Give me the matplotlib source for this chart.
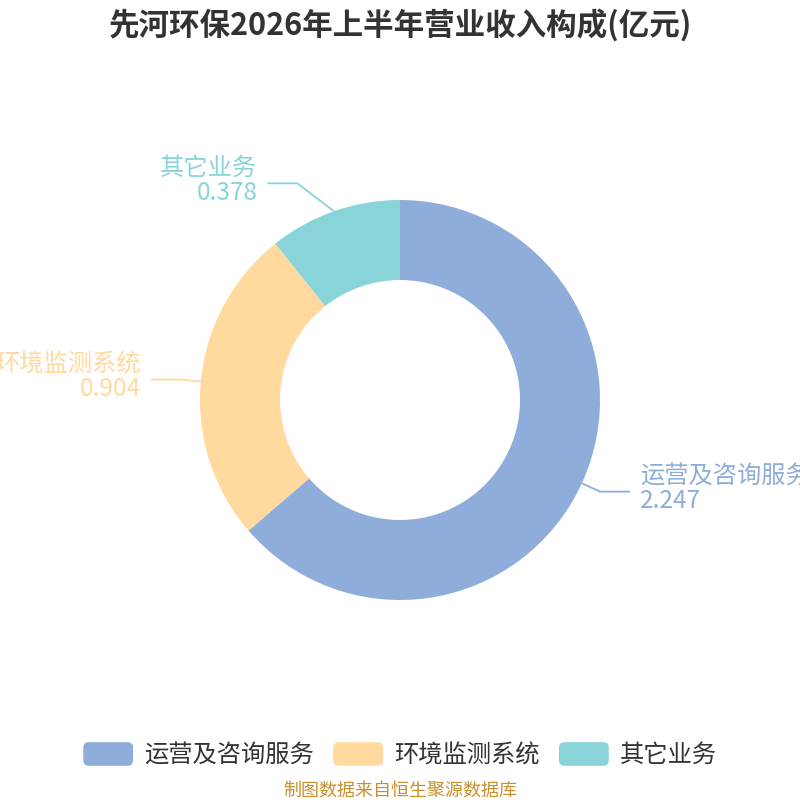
import numpy as np
import matplotlib
matplotlib.use("Agg")
import matplotlib.pyplot as plt
from matplotlib.patches import FancyBboxPatch, Patch
from matplotlib.legend_handler import HandlerPatch

plt.rcParams['font.family'] = ['Noto Sans CJK SC', 'DejaVu Sans']

title = "先河环保2026年上半年营业收入构成(亿元)"
categories = ["运营及咨询服务", "环境监测系统", "其它业务"]
values = [2.247, 0.904, 0.378]
colors = ["#8FADDA", "#FFD99D", "#88D4D8"]
source = "制图数据来自恒生聚源数据库"

# label-line elbow nudges (layout only), in axis units
nudge = [(0.0, 0.0), (0.0, 0.0), (-0.15, 0.045)]

fig = plt.figure(figsize=(8, 8), dpi=100)
ax = fig.add_axes([0, 0, 1, 1])

wedges, _ = ax.pie(values, colors=colors, startangle=90, counterclock=False,
                   radius=1.0, wedgeprops=dict(width=0.4, linewidth=0))
# pie resets the limits, so set them afterwards: 1 unit = 200 px
ax.set_xlim(-2, 2)
ax.set_ylim(-2, 2)
ax.set_aspect('equal')
ax.axis('off')

# leader lines + labels
for w, name, val, col, (dx, dy) in zip(wedges, categories, values, colors, nudge):
    mid = np.deg2rad((w.theta1 + w.theta2) / 2)
    x0, y0 = np.cos(mid), np.sin(mid)
    x1, y1 = 1.1 * x0 + dx, 1.1 * y0 + dy
    side = 1 if x0 > 0 else -1
    x2 = x1 + side * 0.15
    ax.plot([x0, x1, x2], [y0, y1, y1], color=col, lw=1.3, solid_capstyle='butt')
    ha = 'left' if side > 0 else 'right'
    tx = x2 + side * 0.05
    ax.text(tx, y1 + 0.015, f"{name}\n{val:.3f}", color=col, fontsize=17.5,
            ha=ha, va='center', ma=ha, linespacing=0.93)

fig.text(0.5, 0.968, title, ha='center', va='center', fontsize=22,
         fontweight='bold', color='#333333')


class RoundBox(HandlerPatch):
    def create_artists(self, legend, orig, xd, yd, width, height, fontsize, trans):
        p = FancyBboxPatch((-xd, -yd), width, height,
                           boxstyle="round,pad=0,rounding_size=4",
                           facecolor=orig.get_facecolor(), edgecolor='none',
                           transform=trans)
        return [p]


handles = [Patch(facecolor=c, label=n) for c, n in zip(colors, categories)]
fig.legend(handles=handles, loc='center', bbox_to_anchor=(0.5, 0.056), ncol=3,
           frameon=False, fontsize=17.5, handlelength=2.05, handleheight=1.12,
           handletextpad=0.45, columnspacing=0.8, borderpad=0,
           handler_map={Patch: RoundBox()}, labelcolor='#333333')

fig.text(0.5, 0.012, source, ha='center', va='center', fontsize=13, color='#C8902A')

fig.savefig("out.png", dpi=100)
